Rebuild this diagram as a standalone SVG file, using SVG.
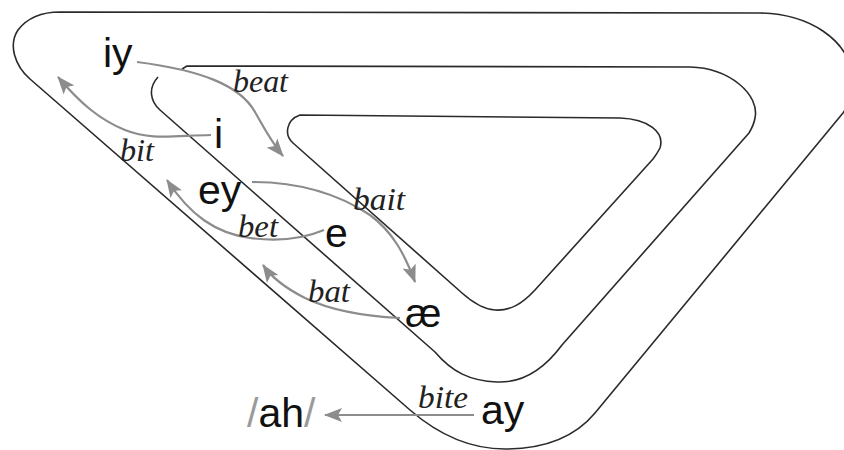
<svg xmlns="http://www.w3.org/2000/svg" width="844" height="450" viewBox="0 0 844 450">
  <style>
    .track { fill: none; stroke: #2a2a2a; stroke-width: 1.6; stroke-linejoin: round; }
    .arrow { fill: none; stroke: #8c8c8c; stroke-width: 2.2; }
    .v { font-family: "Liberation Sans", Arial, sans-serif; font-size: 41px; fill: #111; }
    .w { font-family: "Liberation Serif", "Times New Roman", serif; font-style: italic; font-size: 31px; fill: #222; }
    .sl { fill: #9a9a9a; }
  </style>
  <defs>
    <marker id="ah" markerUnits="userSpaceOnUse" viewBox="0 0 18 14" refX="17" refY="7" markerWidth="18" markerHeight="14" orient="auto">
      <path d="M0,0 L18,7 L0,14 L4,7 Z" fill="#8c8c8c"/>
    </marker>
  </defs>
  <rect width="844" height="450" fill="#ffffff"/>

  <g id="spiral">
    <path class="track" d="M60,12 L760,13 C810,14 848,40 852,75 C854,92 850,103 843,113 L595,413 C575,437 545,449 505,449 C470,449 440,436 410,410 L30,79 C15,66 8,45 18,30 C28,17 42,12 60,12 Z"/>
    <path class="track" d="M182,69 L187,66 L690,67 C730,68 760,95 755,118 C754,124 752,128 749,133 L562,345 C542,372 520,383 497,382 C470,381 452,372 435,352 L160,110 C150,101 148,88 158,77"/>
    <path class="track" d="M300,115 L620,118 C648,119 665,132 660,148 C658,152 656,155 653,159 L535,290 C522,304 510,311 495,310 C482,309 472,302 462,293 L293,143 C284,135 286,120 300,115 Z"/>
  </g>

  <g id="connectors">
    <path class="arrow" marker-end="url(#ah)" d="M137,62 C200,70 240,85 255,112 C265,130 272,143 283,156"/>
    <path class="arrow" marker-end="url(#ah)" d="M211,135 C170,136 150,140 125,130 C100,120 80,103 58,77"/>
    <path class="arrow" marker-end="url(#ah)" d="M252,182 C300,182 340,195 370,215 C393,232 405,255 415,282"/>
    <path class="arrow" marker-end="url(#ah)" d="M324,230 C305,238 280,242 250,238 C215,233 190,215 167,180"/>
    <path class="arrow" marker-end="url(#ah)" d="M400,318 C360,316 330,310 305,298 C285,288 272,278 263,265"/>
    <path class="arrow" marker-end="url(#ah)" d="M474,415 L325,415"/>
  </g>

  <g id="labels">
    <g id="node-iy"><text class="v" x="103" y="67">iy</text></g>
    <g id="node-i"><text class="v" x="214" y="148">i</text></g>
    <g id="node-ey"><text class="v" x="198" y="204">ey</text></g>
    <g id="node-e"><text class="v" x="325" y="247">e</text></g>
    <g id="node-ae"><text class="v" x="405" y="327">æ</text></g>
    <g id="node-ay"><text class="v" x="481" y="424">ay</text></g>
    <g id="node-ah"><text class="v" x="247" y="427"><tspan class="sl">/</tspan>ah<tspan class="sl">/</tspan></text></g>
    <g id="word-beat"><text class="w" x="233" y="92" textLength="55" lengthAdjust="spacingAndGlyphs">beat</text></g>
    <g id="word-bit"><text class="w" x="120" y="161" textLength="34" lengthAdjust="spacingAndGlyphs">bit</text></g>
    <g id="word-bait"><text class="w" x="353" y="210" textLength="52" lengthAdjust="spacingAndGlyphs">bait</text></g>
    <g id="word-bet"><text class="w" x="238" y="237" textLength="40" lengthAdjust="spacingAndGlyphs">bet</text></g>
    <g id="word-bat"><text class="w" x="308" y="302" textLength="42" lengthAdjust="spacingAndGlyphs">bat</text></g>
    <g id="word-bite"><text class="w" x="418" y="408" textLength="50" lengthAdjust="spacingAndGlyphs">bite</text></g>
  </g>
</svg>
